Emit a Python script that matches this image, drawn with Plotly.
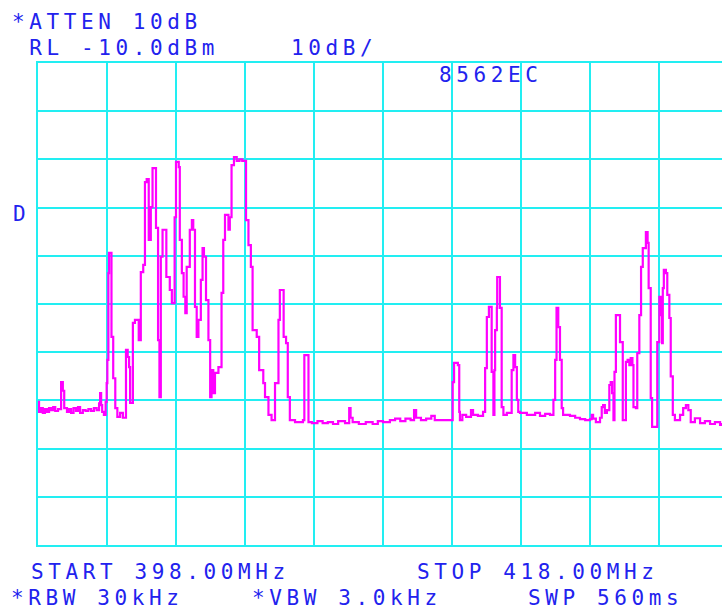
import plotly.graph_objects as go

# Spectrum trace (MHz, dBm)
freq_mhz = [
    398.00, 398.03, 398.08, 398.14, 398.20, 398.26, 398.32, 398.38, 398.44, 398.50,
    398.58, 398.67, 398.72, 398.76, 398.84, 398.90, 398.96, 399.03, 399.10, 399.16,
    399.22, 399.30, 399.38, 399.46, 399.54, 399.62, 399.70, 399.77, 399.80, 399.83,
    399.86, 399.91, 399.96, 399.99, 400.01, 400.04, 400.06, 400.13, 400.18, 400.24,
    400.30, 400.38, 400.46, 400.55, 400.60, 400.64, 400.67, 400.75, 400.81, 400.92,
    400.98, 401.05, 401.10, 401.15, 401.21, 401.27, 401.32, 401.42, 401.48, 401.52,
    401.56, 401.61, 401.72, 401.82, 401.88, 401.96, 402.00, 402.08, 402.11, 402.17,
    402.22, 402.27, 402.31, 402.40, 402.46, 402.50, 402.55, 402.60, 402.65, 402.72,
    402.77, 402.81, 402.87, 402.94, 402.99, 403.03, 403.08, 403.13, 403.23, 403.32,
    403.37, 403.42, 403.52, 403.56, 403.61, 403.68, 403.76, 403.84, 403.92, 404.03,
    404.10, 404.17, 404.22, 404.34, 404.41, 404.53, 404.58, 404.68, 404.77, 404.87,
    404.97, 405.01, 405.12, 405.19, 405.24, 405.30, 405.45, 405.68, 405.72, 405.84,
    405.94, 406.10, 406.25, 406.40, 406.55, 406.70, 406.90, 407.02, 407.06, 407.12,
    407.30, 407.50, 407.70, 407.85, 408.00, 408.20, 408.35, 408.50, 408.65, 408.80,
    408.90, 408.96, 409.10, 409.25, 409.40, 409.50, 409.65, 409.80, 409.94, 410.02,
    410.06, 410.17, 410.21, 410.23, 410.30, 410.41, 410.55, 410.61, 410.75, 410.90,
    410.96, 411.01, 411.07, 411.15, 411.20, 411.23, 411.25, 411.30, 411.31, 411.39,
    411.44, 411.49, 411.59, 411.73, 411.78, 411.83, 411.88, 411.92, 411.97, 412.17,
    412.41, 412.55, 412.70, 412.84, 412.94, 412.99, 413.03, 413.08, 413.13, 413.18,
    413.22, 413.42, 413.57, 413.71, 413.86, 414.00, 414.05, 414.09, 414.17, 414.29,
    414.34, 414.38, 414.43, 414.49, 414.56, 414.60, 414.64, 414.68, 414.71, 414.75,
    414.87, 414.95, 415.04, 415.09, 415.14, 415.18, 415.23, 415.26, 415.33, 415.37,
    415.43, 415.48, 415.53, 415.62, 415.67, 415.70, 415.76, 415.80, 415.88, 415.95,
    416.01, 416.05, 416.09, 416.11, 416.14, 416.20, 416.24, 416.30, 416.34, 416.40,
    416.46, 416.61, 416.70, 416.78, 416.85, 416.92, 417.04, 417.19, 417.33, 417.48,
    417.62, 417.77, 417.83,
]
level_dbm = [
    -80.3, -82.4, -81.6, -82.6, -81.8, -82.4, -81.6, -82.0, -81.4, -82.2,
    -81.8, -76.2, -78.0, -81.6, -82.4, -81.8, -82.6, -81.6, -82.2, -81.4,
    -82.6, -82.0, -82.2, -81.8, -82.2, -81.6, -82.0, -80.6, -78.5, -81.0,
    -82.4, -83.0, -80.3, -76.4, -71.6, -53.6, -49.4, -66.8, -75.4, -81.6,
    -83.4, -82.6, -83.6, -69.5, -71.0, -73.1, -80.5, -63.9, -63.3, -67.5,
    -53.4, -51.9, -34.7, -34.1, -46.7, -39.9, -31.8, -44.2, -67.5, -79.3,
    -50.2, -44.6, -54.4, -57.1, -59.8, -42.0, -30.5, -31.6, -46.7, -53.6,
    -58.5, -61.9, -52.3, -44.6, -42.6, -44.6, -60.6, -66.8, -63.3, -55.0,
    -48.4, -50.2, -59.2, -67.5, -79.3, -73.7, -78.5, -74.3, -73.1, -57.7,
    -46.7, -41.5, -44.6, -42.0, -31.2, -29.5, -30.3, -30.0, -30.3, -42.6,
    -47.8, -52.3, -65.4, -66.8, -73.7, -76.4, -79.3, -83.0, -84.1, -76.4,
    -63.3, -57.1, -66.8, -68.1, -79.3, -84.1, -84.5, -84.1, -70.6, -84.5,
    -84.7, -84.3, -84.7, -84.5, -84.9, -84.3, -84.7, -81.6, -83.6, -84.5,
    -84.9, -84.5, -84.9, -84.3, -84.5, -84.1, -83.8, -84.3, -83.8, -84.1,
    -82.0, -83.6, -84.1, -83.8, -83.2, -84.1, -84.1, -84.1, -84.1, -76.2,
    -72.2, -72.7, -82.4, -84.1, -83.0, -83.4, -82.0, -83.0, -83.2, -82.4,
    -73.3, -62.7, -60.6, -74.1, -83.0, -73.7, -65.4, -60.8, -54.4, -60.8,
    -81.4, -83.0, -82.6, -73.7, -70.6, -73.1, -79.9, -82.4, -82.6, -83.0,
    -82.6, -83.2, -82.8, -83.0, -79.9, -71.6, -60.8, -64.8, -71.6, -81.6,
    -83.0, -83.2, -83.6, -83.9, -84.1, -83.9, -83.0, -83.8, -84.5, -83.6,
    -81.4, -81.0, -82.6, -82.0, -76.8, -76.2, -78.5, -84.1, -74.1, -62.3,
    -67.9, -84.1, -72.0, -71.6, -72.7, -71.2, -72.7, -81.4, -81.6, -70.2,
    -62.3, -52.3, -48.4, -45.1, -47.3, -56.7, -79.5, -85.5, -85.5, -67.9,
    -58.5, -62.3, -68.1, -56.7, -52.9, -53.6, -58.1, -62.9, -75.0, -83.0,
    -84.1, -83.0, -81.6, -81.0, -82.0, -84.5, -83.7, -84.7, -84.3, -84.9,
    -84.5, -85.1, -84.7,
]

start_mhz = 398.0
div_mhz = 2.0
ref_level = -10.0
db_per_div = 10.0

GRID = "#22EEF2"
TRACE = "#FF00FF"
TEXT = "#2222EE"
FONT = "DejaVu Sans Mono"

fig = go.Figure()
fig.add_trace(go.Scatter(
    x=freq_mhz, y=level_dbm, mode="lines",
    line=dict(color=TRACE, width=2.2, shape="hv"),
    hoverinfo="skip", showlegend=False,
))

axis_common = dict(
    showgrid=True, gridcolor=GRID, gridwidth=2,
    showticklabels=False, ticks="", zeroline=False,
    showline=True, linecolor=GRID, linewidth=2,
)
fig.update_xaxes(range=[start_mhz, start_mhz + 684 / 34.5], tick0=start_mhz,
                 dtick=div_mhz, mirror=True, **axis_common)
fig.update_yaxes(range=[ref_level - 10 * db_per_div, ref_level], tick0=ref_level,
                 dtick=db_per_div, mirror=False, **axis_common)


def sp(t):
    return '<span style="letter-spacing:4.6px">' + t + '</span>'


def label(text, x, y):
    fig.add_annotation(text=sp(text), x=x, y=y, xref="paper", yref="paper",
                       xanchor="left", yanchor="middle", showarrow=False,
                       font=dict(family=FONT, size=21, color=TEXT))


W, H = 722, 610
L, T, B = 38, 63, 65
PW, PH = W - L, H - T - B


def px(xp):
    return (xp - L) / PW


def py(yp):
    return (H - B - yp) / PH


label("*ATTEN 10dB", px(10), py(22))
label(" RL -10.0dBm", px(10), py(48))
label("10dB/", px(289), py(48))
label("8562EC", px(437), py(75))
label("D", px(11), py(214))
label("START 398.00MHz", px(29), py(572))
label("STOP 418.00MHz", px(415), py(572))
label("*RBW 30kHz", px(9), py(598))
label("*VBW 3.0kHz", px(250), py(598))
label("SWP 560ms", px(526), py(598))

fig.update_layout(
    width=W, height=H,
    margin=dict(l=L, r=0, t=T, b=B, pad=0),
    paper_bgcolor="white", plot_bgcolor="white",
    showlegend=False,
)

fig.write_html(
    "out.html",
    config={"displayModeBar": False},
    post_script="document.body.style.margin='0';document.body.style.overflow='hidden';",
)
